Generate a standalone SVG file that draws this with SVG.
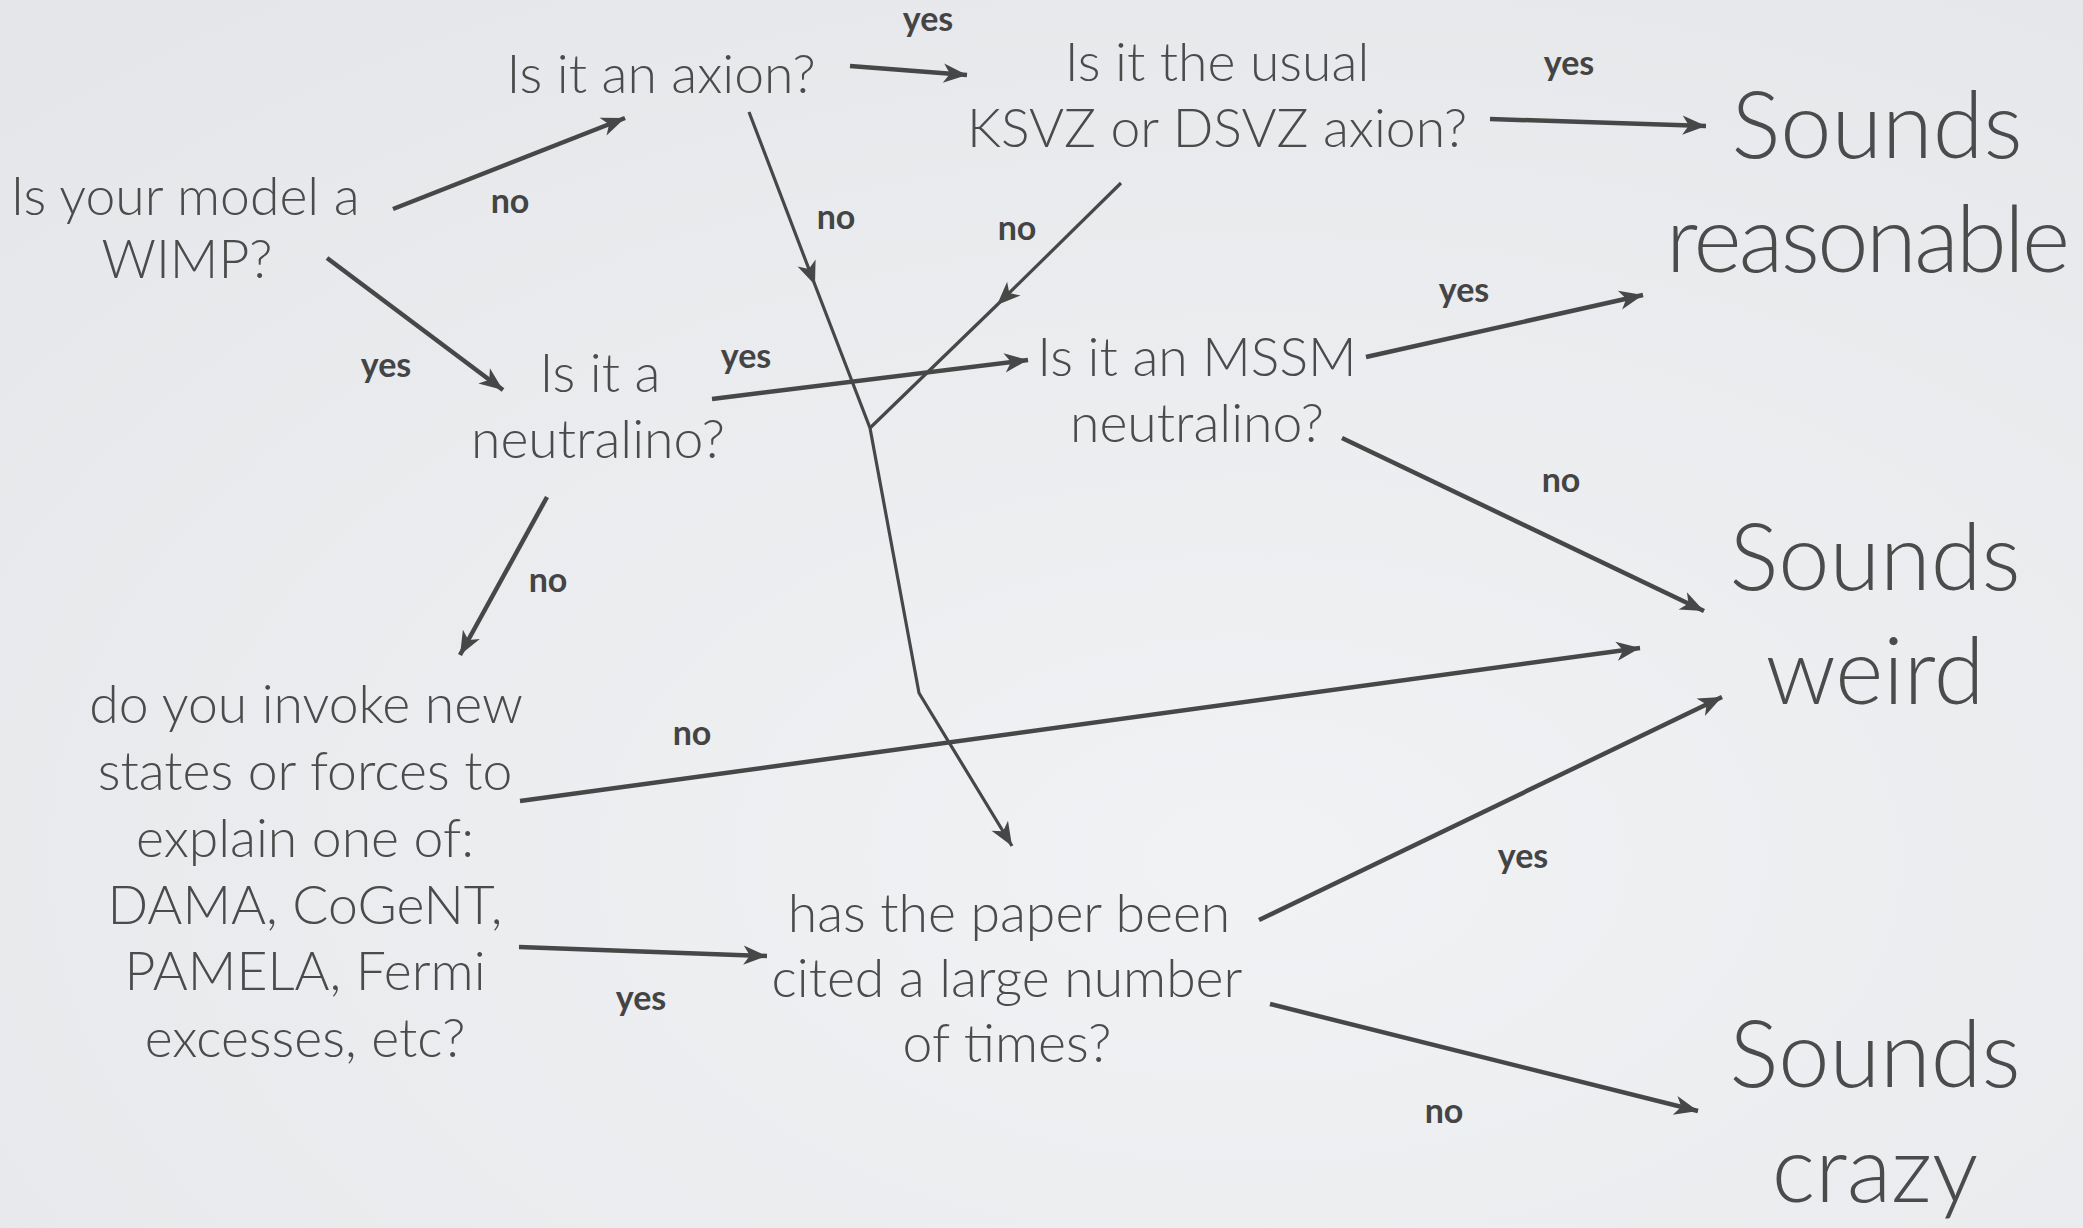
<svg xmlns="http://www.w3.org/2000/svg" width="2083" height="1228" viewBox="0 0 2083 1228">
<defs>
<radialGradient id="bg" cx="0.6" cy="0.7" r="0.9">
<stop offset="0" stop-color="#f1f2f4"/>
<stop offset="1" stop-color="#e4e6e9"/>
</radialGradient>
<marker id="ah" markerUnits="userSpaceOnUse" markerWidth="30" markerHeight="30" viewBox="-24 -12 28 24" refX="0" refY="0" orient="auto">
<path d="M0,0 L-22,-9 L-16,0 L-22,9 Z" fill="#474747"/>
</marker>
</defs>
<style>
.t{font-family:Lato,"Open Sans","Liberation Sans",sans-serif;font-weight:300;font-size:53.5px;fill:#4b4b4b;text-anchor:middle}
.b{font-size:92px}
.l{font-family:Lato,"Open Sans","Liberation Sans",sans-serif;font-weight:700;font-size:34px;fill:#444;text-anchor:middle}
.c{fill:none;stroke:#474747;stroke-width:4.5;stroke-linecap:butt}
.thin{stroke-width:3.2}
</style>
<rect width="2083" height="1228" fill="url(#bg)"/>
<g id="connectors">
<path class="c" d="M393,209 L625,118" marker-end="url(#ah)"/>
<path class="c" d="M327,258 L503,390" marker-end="url(#ah)"/>
<path class="c" d="M850,66 L967,75" marker-end="url(#ah)"/>
<path class="c" d="M1490,119 L1706,126" marker-end="url(#ah)"/>
<path class="c thin" d="M749,112 L815,285 L870,428" marker-mid="url(#ah)"/>
<path class="c thin" d="M1121,183 L997,305 L870,428" marker-mid="url(#ah)"/>
<path class="c thin" d="M870,428 L919,693 L1012,846" marker-end="url(#ah)"/>
<path class="c" d="M712,399 L1028,360" marker-end="url(#ah)"/>
<path class="c" d="M1366,357 L1643,295" marker-end="url(#ah)"/>
<path class="c" d="M1342,438 L1704,611" marker-end="url(#ah)"/>
<path class="c" d="M547,497 L460,655" marker-end="url(#ah)"/>
<path class="c" d="M520,801 L1640,648" marker-end="url(#ah)"/>
<path class="c" d="M519,947 L767,956" marker-end="url(#ah)"/>
<path class="c" d="M1259,920 L1722,697" marker-end="url(#ah)"/>
<path class="c" d="M1270,1004 L1698,1111" marker-end="url(#ah)"/>
<text class="l" x="510" y="213">no</text>
<text class="l" x="386" y="377">yes</text>
<text class="l" x="928" y="31">yes</text>
<text class="l" x="1569" y="75">yes</text>
<text class="l" x="836" y="229">no</text>
<text class="l" x="1017" y="240">no</text>
<text class="l" x="746" y="368">yes</text>
<text class="l" x="1464" y="302">yes</text>
<text class="l" x="1561" y="492">no</text>
<text class="l" x="548" y="592">no</text>
<text class="l" x="692" y="745">no</text>
<text class="l" x="641" y="1010">yes</text>
<text class="l" x="1523" y="868">yes</text>
<text class="l" x="1444" y="1123">no</text>
</g>
<g id="n-wimp"><text class="t" x="185" y="215">Is your model a</text><text class="t" x="187" y="278">WIMP?</text></g>
<g id="n-axion"><text class="t" x="661" y="93">Is it an axion?</text></g>
<g id="n-ksvz"><text class="t" x="1217" y="81">Is it the usual</text><text class="t" x="1217" y="147">KSVZ or DSVZ axion?</text></g>
<g id="n-reasonable"><text class="t b" x="1877" y="158">Sounds</text><text class="t b" x="1868" y="272" textLength="404">reasonable</text></g>
<g id="n-neutralino"><text class="t" x="600" y="392">Is it a</text><text class="t" x="598" y="458">neutralino?</text></g>
<g id="n-mssm"><text class="t" x="1197" y="376">Is it an MSSM</text><text class="t" x="1197" y="442">neutralino?</text></g>
<g id="n-weird"><text class="t b" x="1875" y="590">Sounds</text><text class="t b" x="1875" y="704">weird</text></g>
<g id="n-invoke">
<text class="t" x="306" y="723">do you invoke new</text>
<text class="t" x="305" y="790">states or forces to</text>
<text class="t" x="305" y="857">explain one of:</text>
<text class="t" x="305" y="924">DAMA, CoGeNT,</text>
<text class="t" x="305" y="990">PAMELA, Fermi</text>
<text class="t" x="305" y="1057">excesses, etc?</text>
</g>
<g id="n-cited">
<text class="t" x="1009" y="932">has the paper been</text>
<text class="t" x="1007" y="997">cited a large number</text>
<text class="t" x="1007" y="1062">of times?</text>
</g>
<g id="n-crazy"><text class="t b" x="1875" y="1087">Sounds</text><text class="t b" x="1875" y="1202">crazy</text></g>
</svg>
